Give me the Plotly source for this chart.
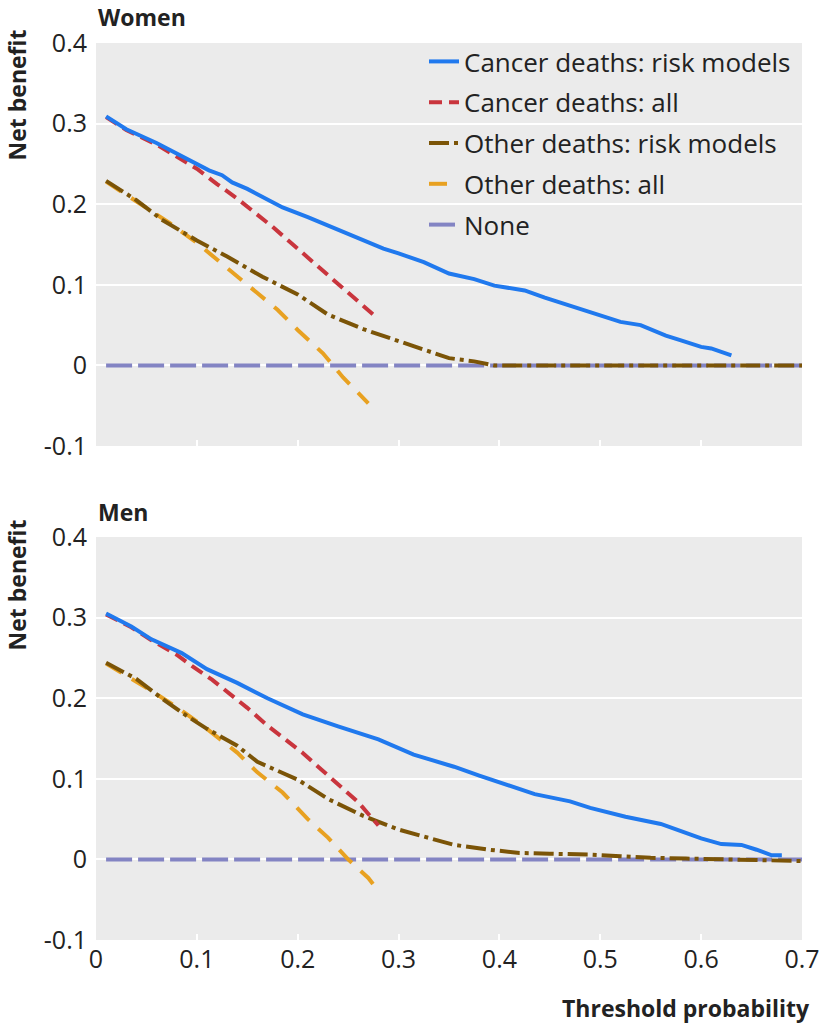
import plotly.graph_objects as go

# threshold probability / net benefit
# Women
w_cancer_risk_t = [0.01, 0.03, 0.06, 0.08, 0.10, 0.112, 0.125, 0.135, 0.15, 0.185, 0.21, 0.25, 0.285, 0.30, 0.325,
                   0.35, 0.375, 0.395, 0.425, 0.445, 0.47, 0.49, 0.52, 0.54, 0.565, 0.58, 0.60, 0.61, 0.63]
w_cancer_risk = [0.309, 0.293, 0.276, 0.263, 0.250, 0.242, 0.236, 0.227, 0.219, 0.196, 0.184, 0.163, 0.145, 0.139, 0.128,
                 0.114, 0.107, 0.099, 0.093, 0.084, 0.074, 0.066, 0.054, 0.050, 0.037, 0.031, 0.023, 0.021, 0.0125]
w_cancer_all_t = [0.01, 0.03, 0.06, 0.10, 0.12, 0.14, 0.175, 0.195, 0.23, 0.25, 0.275]
w_cancer_all = [0.308, 0.292, 0.274, 0.244, 0.225, 0.207, 0.172, 0.150, 0.111, 0.090, 0.063]
w_other_risk_t = [0.01, 0.04, 0.065, 0.10, 0.13, 0.165, 0.20, 0.23, 0.265, 0.30, 0.33, 0.35, 0.375, 0.395, 0.5, 0.6, 0.7]
w_other_risk = [0.229, 0.205, 0.181, 0.155, 0.135, 0.110, 0.088, 0.063, 0.045, 0.030, 0.018, 0.009, 0.005, 0.0, 0.0, 0.0, 0.0]
w_other_all_t = [0.01, 0.05, 0.075, 0.10, 0.125, 0.15, 0.18, 0.20, 0.225, 0.245, 0.27]
w_other_all = [0.228, 0.195, 0.175, 0.152, 0.126, 0.099, 0.069, 0.044, 0.015, -0.015, -0.047]

# Men
m_cancer_risk_t = [0.01, 0.035, 0.055, 0.085, 0.11, 0.14, 0.17, 0.205, 0.24, 0.28, 0.315, 0.355, 0.38, 0.40, 0.435,
                   0.47, 0.49, 0.525, 0.56, 0.58, 0.60, 0.62, 0.64, 0.655, 0.67, 0.68]
m_cancer_risk = [0.305, 0.289, 0.273, 0.256, 0.236, 0.219, 0.200, 0.180, 0.165, 0.149, 0.130, 0.115, 0.104, 0.096, 0.081,
                 0.072, 0.064, 0.053, 0.044, 0.035, 0.026, 0.019, 0.018, 0.012, 0.005, 0.005]
m_cancer_all_t = [0.01, 0.035, 0.055, 0.08, 0.095, 0.115, 0.15, 0.17, 0.205, 0.23, 0.26, 0.28]
m_cancer_all = [0.304, 0.288, 0.272, 0.254, 0.240, 0.223, 0.188, 0.166, 0.132, 0.104, 0.071, 0.042]
m_other_risk_t = [0.01, 0.04, 0.065, 0.09, 0.11, 0.14, 0.16, 0.18, 0.20, 0.23, 0.265, 0.30, 0.33, 0.355, 0.39, 0.42,
                  0.45, 0.49, 0.52, 0.55, 0.585, 0.62, 0.65, 0.70]
m_other_risk = [0.244, 0.224, 0.200, 0.178, 0.162, 0.141, 0.121, 0.110, 0.099, 0.075, 0.054, 0.037, 0.026, 0.018, 0.012,
                0.008, 0.007, 0.006, 0.004, 0.002, 0.001, 0.0, -0.0005, -0.002]
m_other_all_t = [0.01, 0.05, 0.08, 0.11, 0.14, 0.16, 0.185, 0.21, 0.23, 0.25, 0.27, 0.278]
m_other_all = [0.243, 0.213, 0.189, 0.162, 0.1325, 0.108, 0.083, 0.050, 0.027, 0.0, -0.023, -0.036]

none_t = [0.01, 0.70]
none_nb = [0.0, 0.0]

y_ticks = [0.4, 0.3, 0.2, 0.1, 0, -0.1]
y_ticktext = ["0.4", "0.3", "0.2", "0.1", "0", "-0.1"]
x_ticks = [0, 0.1, 0.2, 0.3, 0.4, 0.5, 0.6, 0.7]
x_ticktext = ["0", "0.1", "0.2", "0.3", "0.4", "0.5", "0.6", "0.7"]

BLUE = "#2079ee"
RED = "#c9353d"
BROWN = "#7b5407"
ORANGE = "#e8a121"
PURPLE = "#8384c3"
FONT = "Open Sans"
W, H = 824, 1028

panels = [
    ("x", "y", w_cancer_risk_t, w_cancer_risk, w_cancer_all_t, w_cancer_all,
     w_other_risk_t, w_other_risk, w_other_all_t, w_other_all, True),
    ("x2", "y2", m_cancer_risk_t, m_cancer_risk, m_cancer_all_t, m_cancer_all,
     m_other_risk_t, m_other_risk, m_other_all_t, m_other_all, False),
]

fig = go.Figure()
for xa, ya, crt, cr, cat, ca, ort, orr, oat, oa, leg in panels:
    # drawing order: none, other all, other risk, cancer all, cancer risk
    fig.add_trace(go.Scatter(x=none_t, y=none_nb, mode="lines", name="None", legendrank=5, legendgroup="g5",
                             line=dict(color=PURPLE, width=4, dash="26px,6px"),
                             xaxis=xa, yaxis=ya, showlegend=leg))
    fig.add_trace(go.Scatter(x=oat, y=oa, mode="lines", name="Other deaths: all", legendrank=4, legendgroup="g4",
                             line=dict(color=ORANGE, width=4, dash="18px,12px"),
                             xaxis=xa, yaxis=ya, showlegend=leg))
    fig.add_trace(go.Scatter(x=ort, y=orr, mode="lines", name="Other deaths: risk models", legendrank=3,
                             legendgroup="g3",
                             line=dict(color=BROWN, width=4, dash="20px,5px,4px,5px"),
                             xaxis=xa, yaxis=ya, showlegend=leg))
    fig.add_trace(go.Scatter(x=cat, y=ca, mode="lines", name="Cancer deaths: all", legendrank=2, legendgroup="g2",
                             line=dict(color=RED, width=4, dash="13px,7px"),
                             xaxis=xa, yaxis=ya, showlegend=leg))
    fig.add_trace(go.Scatter(x=crt, y=cr, mode="lines", name="Cancer deaths: risk models", legendrank=1,
                             legendgroup="g1",
                             line=dict(color=BLUE, width=4),
                             xaxis=xa, yaxis=ya, showlegend=leg))

xdom = [96 / W, 802 / W]
top_dom = [1 - 446 / H, 1 - 43 / H]
bot_dom = [1 - 940 / H, 1 - 537 / H]

xcommon = dict(range=[0, 0.7], domain=xdom, tickvals=x_ticks, ticktext=x_ticktext, automargin=False,
               ticks="inside", ticklen=6, tickwidth=2, tickcolor="white", ticklabelstandoff=2,
               ticklabeloverflow="allow",
               showgrid=False, zeroline=False, showline=False,
               tickfont=dict(family=FONT, size=25, color="#222"))
ycommon = dict(range=[-0.1, 0.4], tickvals=y_ticks, ticktext=y_ticktext, automargin=False,
               showgrid=True, gridcolor="white", gridwidth=2, zeroline=False, showline=False,
               ticks="", ticklabelstandoff=8, ticklabeloverflow="allow",
               tickfont=dict(family=FONT, size=25, color="#222"))

fig.update_layout(
    width=W, height=H,
    margin=dict(l=0, r=0, t=0, b=0, autoexpand=False),
    paper_bgcolor="white", plot_bgcolor="#ebebeb",
    font=dict(family=FONT, size=25, color="#222"),
    xaxis=dict(xcommon, anchor="y", showticklabels=False),
    yaxis=dict(ycommon, domain=top_dom, anchor="x"),
    xaxis2=dict(xcommon, anchor="y2"),
    yaxis2=dict(ycommon, domain=bot_dom, anchor="x2"),
    legend=dict(x=424 / W, y=1 - 38 / H, xanchor="left", yanchor="top",
                bgcolor="rgba(0,0,0,0)", font=dict(family=FONT, size=26, color="#222"),
                traceorder="grouped", tracegroupgap=4),
    showlegend=True,
)

annots = [
    dict(text="<b>Women</b>", x=96 / W, y=1 - 17 / H, xanchor="left", yanchor="middle"),
    dict(text="<b>Men</b>", x=96 / W, y=1 - 512 / H, xanchor="left", yanchor="middle"),
    dict(text="<b>Net benefit</b>", x=16 / W, y=1 - 28 / H, xanchor="center", yanchor="top", textangle=-90),
    dict(text="<b>Net benefit</b>", x=16 / W, y=1 - 518 / H, xanchor="center", yanchor="top", textangle=-90),
    dict(text="<b>Threshold probability</b>", x=812 / W, y=1 - 1008 / H, xanchor="right", yanchor="middle"),
]
for a in annots:
    fig.add_annotation(xref="paper", yref="paper", showarrow=False,
                       font=dict(family=FONT, size=23, color="#222"), **a)

# drop the default 8px page margin so the figure fills the window exactly
fig.write_html("out.html", config={"displayModeBar": False},
               post_script="document.body.style.margin='0';")
